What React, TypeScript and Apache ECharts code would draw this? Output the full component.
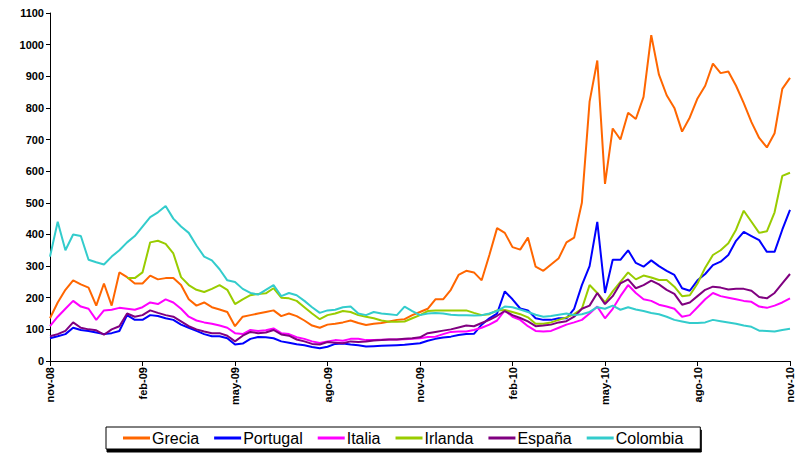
import React, { useEffect, useRef } from "react";
import * as echarts from "echarts";

const months = ["nov-08","dic-08","ene-09","feb-09","mar-09","abr-09","may-09","jun-09","jul-09","ago-09","sep-09","oct-09","nov-09","dic-09","ene-10","feb-10","mar-10","abr-10","may-10","jun-10","jul-10","ago-10","sep-10","oct-10","nov-10"];
const categories: string[] = [];
for (let i = 0; i <= 96; i++) categories.push(months[Math.floor(i / 4)] + " " + ((i % 4) + 1));

const grecia = [135,185,225,255,242,232,175,245,175,280,265,245,245,270,258,262,262,240,195,175,185,170,163,155,110,
140,145,150,155,160,142,150,142,128,112,105,115,118,122,128,120,114,118,120,125,130,132,145,155,
165,195,195,225,272,285,280,255,335,420,405,360,352,390,298,285,305,325,375,390,500,820,950,560,
735,700,785,765,835,1030,905,840,800,725,770,830,870,940,910,915,870,815,755,705,675,720,860,895];

const portugal = [72,78,85,105,98,95,90,85,88,95,145,130,130,145,142,135,130,115,105,95,85,78,78,72,52,
55,70,76,75,72,62,58,53,50,44,40,45,54,55,52,50,46,47,48,49,50,51,54,56,
64,70,74,77,82,85,86,115,135,150,220,195,166,160,135,130,130,135,135,165,240,300,440,215,
320,320,350,310,298,318,300,285,272,230,222,255,275,303,314,335,380,408,395,382,345,345,415,478];

const italia = [110,140,165,190,172,165,130,160,162,168,165,162,170,185,180,195,185,165,140,128,122,118,112,105,88,
85,98,95,97,103,88,85,75,70,62,57,62,66,64,70,70,66,66,67,68,68,69,70,72,
76,77,85,92,93,93,98,105,115,128,160,140,130,110,95,93,95,105,115,122,130,150,172,135,
165,205,240,215,195,190,178,172,165,140,145,170,195,215,205,200,195,190,187,172,168,175,185,198];

const irlanda = [null,null,null,null,null,null,null,null,null,null,262,262,280,375,380,370,340,265,240,225,218,228,240,225,180,
195,208,212,214,230,200,198,190,170,150,132,145,150,158,155,145,140,135,128,124,124,125,135,145,
158,160,160,160,160,160,152,145,148,160,161,155,148,138,118,118,122,130,138,148,165,240,215,185,
220,250,280,258,270,264,256,256,235,205,208,245,295,335,350,372,415,475,440,405,410,470,585,595];

const espana = [78,85,95,122,105,100,97,83,100,110,150,140,145,160,152,145,140,125,110,100,93,88,88,80,62,
80,92,88,90,98,84,80,68,62,54,52,60,58,56,62,60,62,65,66,68,68,70,72,75,
88,92,96,100,106,112,110,120,130,143,158,145,136,125,110,112,115,122,126,140,165,175,215,180,
205,245,258,230,240,254,242,225,212,178,185,205,225,235,232,226,228,228,222,202,198,215,245,275];

const colombia = [330,440,350,400,395,320,312,305,330,350,375,395,425,455,470,490,450,425,405,365,330,318,290,255,250,
228,215,210,225,240,205,215,208,190,170,152,160,162,170,172,150,145,155,150,148,145,172,158,145,
150,152,150,146,145,145,144,145,150,158,172,170,163,155,146,140,142,146,150,145,148,155,170,165,
175,162,170,163,158,152,148,140,130,125,120,120,122,130,126,122,118,112,108,96,95,93,98,102];

const seriesDefs = [
  { name: "Grecia", data: grecia, color: "#FF6600" },
  { name: "Portugal", data: portugal, color: "#0000FF" },
  { name: "Italia", data: italia, color: "#FF00FF" },
  { name: "Irlanda", data: irlanda, color: "#99CC00" },
  { name: "España", data: espana, color: "#800080" },
  { name: "Colombia", data: colombia, color: "#33CCCC" },
];

export default function App() {
  const ref = useRef<HTMLDivElement>(null);
  useEffect(() => {
    document.body.style.margin = "0";
    const chart = echarts.init(ref.current!, null, { renderer: "svg" });
    const font = "Liberation Sans, Arial, sans-serif";
    chart.setOption({
      animation: false,
      backgroundColor: "#fff",
      textStyle: { fontFamily: font },
      grid: { left: 50, right: 6, top: 13, bottom: 92, containLabel: false },
      legend: {
        left: 106,
        top: 427,
        padding: [3, 17, 3, 17],
        itemGap: 15,
        itemWidth: 27,
        itemHeight: 3,
        icon: "rect",
        borderColor: "#000",
        borderWidth: 1,
        borderRadius: 0,
        backgroundColor: "#fff",
        shadowColor: "#000",
        shadowOffsetX: 1,
        shadowOffsetY: 3,
        shadowBlur: 0,
        textStyle: { fontFamily: font, fontSize: 16, color: "#000", padding: [0, 0, 0, -3] },
        data: seriesDefs.map((s) => s.name),
      },
      xAxis: {
        type: "category",
        data: categories,
        boundaryGap: false,
        axisLine: { lineStyle: { color: "#000", width: 1 } },
        axisTick: { interval: 11, length: 5, lineStyle: { color: "#000" } },
        axisLabel: {
          interval: 11,
          rotate: 90,
          color: "#000",
          fontSize: 11,
          fontWeight: "bold",
          fontFamily: font,
          margin: 6,
          formatter: (v: string) => v.split(" ")[0],
        },
        splitLine: { show: false },
      },
      yAxis: {
        type: "value",
        min: 0,
        max: 1100,
        interval: 100,
        axisLine: { show: true, lineStyle: { color: "#000", width: 1 } },
        axisTick: { show: true, length: 4, lineStyle: { color: "#000" } },
        axisLabel: {
          color: "#000",
          fontSize: 11,
          fontWeight: "bold",
          fontFamily: font,
          margin: 6,
          formatter: (v: number) => String(v),
        },
        splitLine: { show: false },
      },
      series: seriesDefs.map((s) => ({
        name: s.name,
        type: "line",
        data: s.data,
        symbol: "none",
        connectNulls: false,
        lineStyle: { color: s.color, width: 2 },
        itemStyle: { color: s.color },
      })),
    });
    return () => chart.dispose();
  }, []);
  return <div ref={ref} style={{ width: 796, height: 453 }} />;
}
